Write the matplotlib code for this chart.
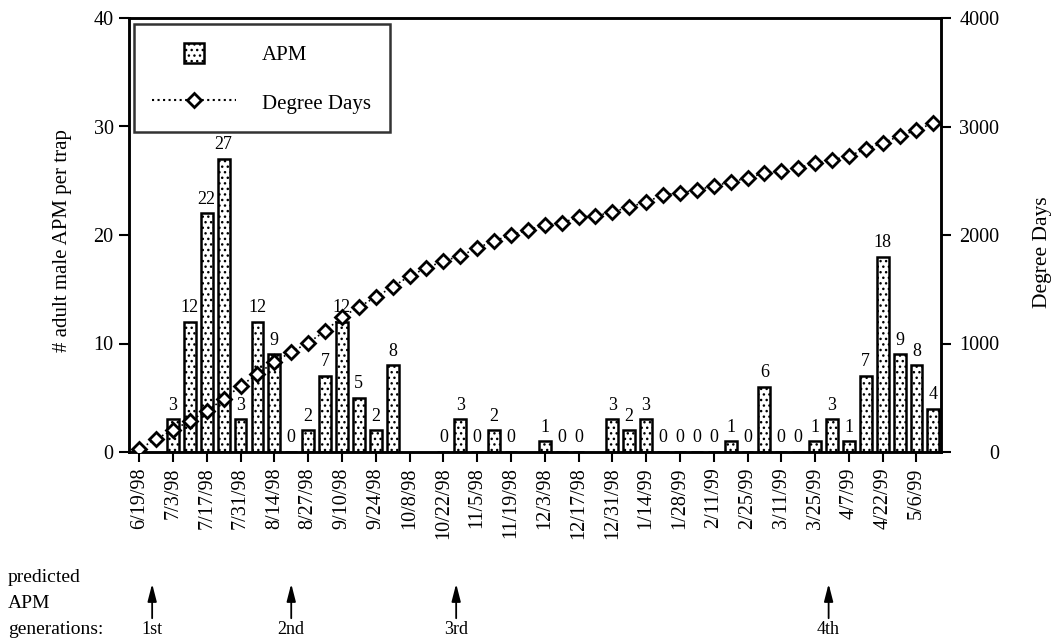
import matplotlib
matplotlib.use("Agg")
import matplotlib.pyplot as plt
import matplotlib.transforms as mtransforms
from matplotlib.patches import Patch, Rectangle
from matplotlib.lines import Line2D
from matplotlib.legend_handler import HandlerPatch
import numpy as np

plt.rcParams['font.family'] = ['Liberation Serif', 'DejaVu Serif']
plt.rcParams['hatch.linewidth'] = 1.0

# weekly sampling positions (index 0 = 6/19/98)
n_weeks = 48
# APM trap catches (None = not sampled)
apm = [None, None, 3, 12, 22, 27, 3, 12, 9, 0, 2, 7, 12, 5, 2, 8,
       None, None, 0, 3, 0, 2, 0, None, 1, 0, 0, None, 3, 2, 3, 0,
       0, 0, 0, 1, 0, 6, 0, 0, 1, 3, 1, 7, 18, 9, 8, 4]
# cumulative degree days
degree_days = [25, 120, 203, 286, 378, 488, 608, 719, 829, 922, 1005, 1115,
               1244, 1336, 1429, 1521, 1622, 1696, 1760, 1806, 1880, 1945, 2000, 2046,
               2092, 2110, 2166, 2175, 2212, 2258, 2304, 2369, 2387, 2415, 2452, 2488,
               2525, 2571, 2590, 2618, 2664, 2691, 2728, 2793, 2848, 2912, 2968, 3032]
tick_labels = ['6/19/98', '7/3/98', '7/17/98', '7/31/98', '8/14/98', '8/27/98',
               '9/10/98', '9/24/98', '10/8/98', '10/22/98', '11/5/98', '11/19/98',
               '12/3/98', '12/17/98', '12/31/98', '1/14/99', '1/28/99', '2/11/99',
               '2/25/99', '3/11/99', '3/25/99', '4/7/99', '4/22/99', '5/6/99']
generation_labels = ['1st', '2nd', '3rd', '4th']
generation_weeks = [0.77, 9.0, 18.76, 40.8]

x = np.arange(n_weeks)
bx = [i for i, v in enumerate(apm) if v is not None]
bv = [apm[i] for i in bx]

fig = plt.figure(figsize=(10.57, 6.39), dpi=100)
ax = fig.add_axes([129/1057, 1-452/639, (941-129)/1057, (452-18)/639])
ax2 = ax.twinx()

ax.bar(bx, bv, width=0.7, color='white', edgecolor='black', linewidth=1.8,
       hatch='...', zorder=2)
for i, v in zip(bx, bv):
    ax.annotate(str(v), (i, v), xytext=(0, 4), textcoords='offset points',
                ha='center', va='bottom', fontsize=13, zorder=5)

ax2.plot(x, degree_days, linestyle=':', color='black', linewidth=1.2,
         marker='D', markersize=7, markerfacecolor='white',
         markeredgecolor='black', markeredgewidth=2, zorder=4)

ax.set_xlim(-0.6, 47.45)
ax.set_ylim(0, 40)
ax2.set_ylim(0, 4000)
ax.set_yticks([0, 10, 20, 30, 40])
ax2.set_yticks([0, 1000, 2000, 3000, 4000])
ax.set_xticks(np.arange(0, n_weeks, 2))
ax.set_xticklabels(tick_labels, rotation=90, fontsize=14, va='top', ha='center')
ax.tick_params(axis='both', direction='out', length=7, width=1.5, labelsize=14.5, pad=4)
ax.tick_params(axis='x', pad=4)
ax2.tick_params(axis='y', direction='out', length=7, width=1.5, labelsize=14.5, pad=35)
for lab in ax2.get_yticklabels():
    lab.set_horizontalalignment('right')

for a in (ax, ax2):
    for s in a.spines.values():
        s.set_linewidth(1.8)

ax.set_ylabel('# adult male APM per trap', fontsize=15, va='center')
ax.yaxis.set_label_coords((63-129)/812, (452-241)/434)
ax2.set_ylabel('Degree Days', fontsize=15.5, va='center')
ax2.yaxis.set_label_coords((1042-129)/812, (452-252)/434)


def square_patch(legend, orig_handle, xdescent, ydescent, width, height, fontsize):
    side = height
    return Rectangle((-xdescent + (width - side) / 2, -ydescent), side, side)


handles = [Patch(facecolor='white', edgecolor='black', hatch='...', linewidth=1.8),
           Line2D([0], [0], linestyle=':', color='black', marker='D', markersize=7,
                  markerfacecolor='white', markeredgecolor='black', markeredgewidth=2)]
leg = ax2.legend(handles, ['APM', 'Degree Days'], loc='upper left',
                 bbox_to_anchor=(0.006, 0.986), fontsize=15, frameon=True, fancybox=False,
                 edgecolor='black', borderpad=0.89, labelspacing=1.3, handlelength=4.0,
                 handleheight=1.1, handletextpad=1.27, borderaxespad=0,
                 handler_map={Patch: HandlerPatch(patch_func=square_patch)})
leg.get_frame().set_linewidth(1.8)

# predicted generations annotation
trans = mtransforms.blended_transform_factory(ax.transData, fig.transFigure)
for lbl, pos in zip(generation_labels, generation_weeks):
    ax.annotate('', xy=(pos, 1-581/639), xytext=(pos, 1-621/639),
                xycoords=trans, textcoords=trans, annotation_clip=False,
                arrowprops=dict(arrowstyle='-|>,head_width=0.18,head_length=0.7',
                                color='black', lw=1.3, mutation_scale=15))
    ax.text(pos, 1-629/639, lbl, transform=trans, ha='center', va='center',
            fontsize=13, clip_on=False)
fig.text(8/1057, 1-578/639, 'predicted', ha='left', va='center', fontsize=14)
fig.text(8/1057, 1-603/639, 'APM', ha='left', va='center', fontsize=14)
fig.text(8/1057, 1-629/639, 'generations:', ha='left', va='center', fontsize=14)

fig.savefig('out.png', dpi=100)
